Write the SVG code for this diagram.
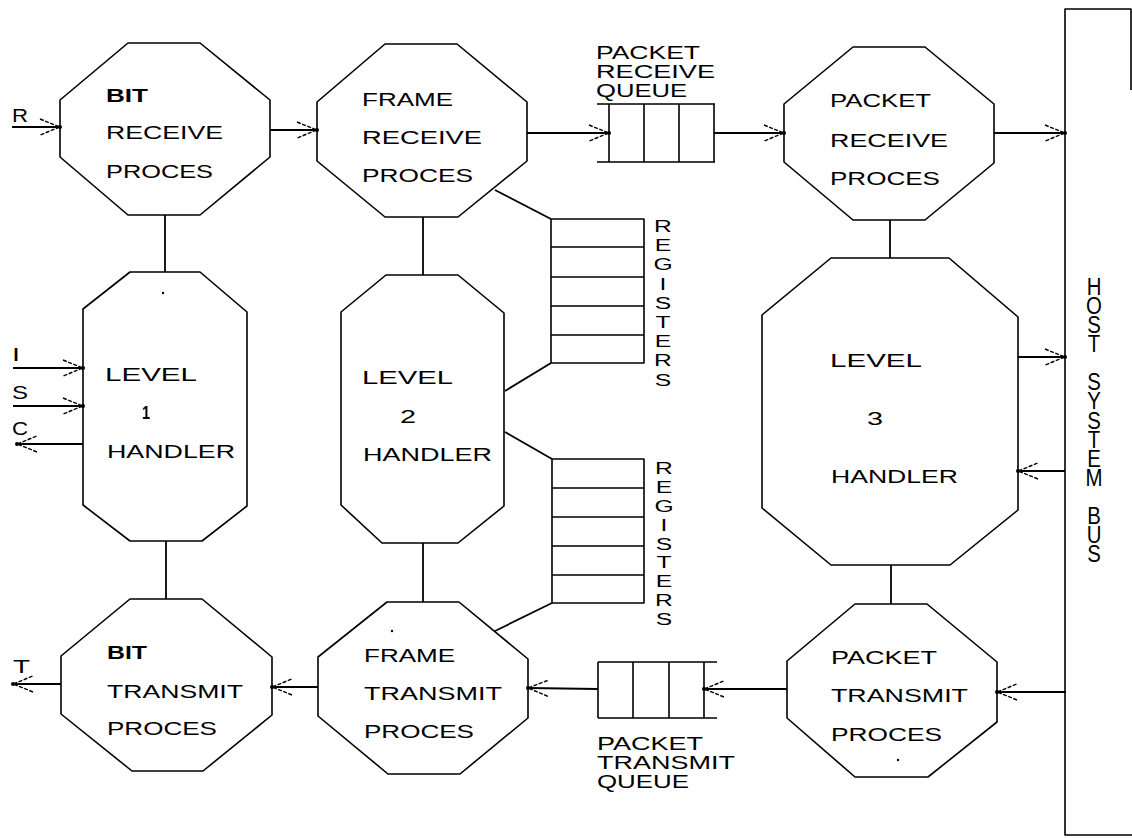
<svg xmlns="http://www.w3.org/2000/svg" width="1132" height="838" viewBox="0 0 1132 838">
<style>
.shape{fill:none;stroke:#000;stroke-width:1.6;stroke-linejoin:round}
.line{fill:none;stroke:#000;stroke-width:1.8}
.t{font-family:"Liberation Sans",Arial,sans-serif;font-size:18px;fill:#000}
.vt{font-family:"Liberation Sans",Arial,sans-serif;font-size:17px;fill:#000;text-anchor:middle}
.bt{font-family:"Liberation Sans",Arial,sans-serif;font-size:24px;fill:#000;writing-mode:vertical-rl;text-orientation:upright;letter-spacing:-7.8px}
.speck{fill:#000}
</style>
<defs>
<marker id="arr" markerUnits="userSpaceOnUse" markerWidth="30" markerHeight="24" viewBox="-24 -12 30 24" refX="0" refY="0" orient="auto">
<path d="M-20,-8 L0,0 L-20,8" fill="none" stroke="#000" stroke-width="1.4" stroke-dasharray="4 1.5"/>
<circle cx="0" cy="0" r="2" fill="#000"/>
</marker>
</defs>
<rect width="1132" height="838" fill="#fff"/>

<g id="connectors">
<line class="line" x1="12" y1="127" x2="60" y2="127" marker-end="url(#arr)"/>
<line class="line" x1="270" y1="130" x2="317" y2="130" marker-end="url(#arr)"/>
<line class="line" x1="527" y1="133" x2="609" y2="133" marker-end="url(#arr)"/>
<line class="line" x1="714" y1="133" x2="784" y2="133" marker-end="url(#arr)"/>
<line class="line" x1="994" y1="133" x2="1065" y2="133" marker-end="url(#arr)"/>
<line class="line" x1="165" y1="215" x2="165" y2="272"/>
<line class="line" x1="166" y1="541" x2="166" y2="599"/>
<line class="line" x1="423" y1="217" x2="423" y2="275"/>
<line class="line" x1="423" y1="543" x2="423" y2="602"/>
<line class="line" x1="890" y1="220" x2="890" y2="258"/>
<line class="line" x1="891" y1="565" x2="891" y2="604"/>
<line class="line" x1="495" y1="190" x2="551" y2="219"/>
<line class="line" x1="551" y1="363" x2="505" y2="391"/>
<line class="line" x1="505" y1="432" x2="552" y2="459"/>
<line class="line" x1="552" y1="603" x2="495" y2="631"/>
<line class="line" x1="13" y1="368" x2="83" y2="368" marker-end="url(#arr)"/>
<line class="line" x1="13" y1="406" x2="83" y2="406" marker-end="url(#arr)"/>
<line class="line" x1="83" y1="444" x2="17" y2="444" marker-end="url(#arr)"/>
<line class="line" x1="1018" y1="357" x2="1065" y2="357" marker-end="url(#arr)"/>
<line class="line" x1="1065" y1="471" x2="1018" y2="471" marker-end="url(#arr)"/>
<line class="line" x1="1066" y1="692" x2="997" y2="692" marker-end="url(#arr)"/>
<line class="line" x1="787" y1="689" x2="704" y2="689" marker-end="url(#arr)"/>
<line class="line" x1="598" y1="689" x2="528" y2="688" marker-end="url(#arr)"/>
<line class="line" x1="318" y1="687" x2="272" y2="687" marker-end="url(#arr)"/>
<line class="line" x1="61" y1="684" x2="13" y2="684" marker-end="url(#arr)"/>
</g>

<g id="signal-labels">
<text class="t" x="12" y="122" textLength="16" lengthAdjust="spacingAndGlyphs">R</text>
<text class="t" x="12" y="361" textLength="8" lengthAdjust="spacingAndGlyphs">I</text>
<text class="t" x="12" y="399" textLength="16" lengthAdjust="spacingAndGlyphs">S</text>
<text class="t" x="12" y="435" textLength="16" lengthAdjust="spacingAndGlyphs">C</text>
<text class="t" x="13" y="673" textLength="17" lengthAdjust="spacingAndGlyphs">T</text>
</g>

<g id="bit-receive">
<polygon class="shape" points="128,43 200,43 270,100 270,157 200,215 128,215 60,157 60,100"/>
<text class="t" x="106" y="102" textLength="42" lengthAdjust="spacingAndGlyphs" font-weight="bold">BIT</text>
<text class="t" x="106" y="139" textLength="117" lengthAdjust="spacingAndGlyphs">RECEIVE</text>
<text class="t" x="106" y="178" textLength="107" lengthAdjust="spacingAndGlyphs">PROCES</text>
</g>

<g id="frame-receive">
<polygon class="shape" points="385,44 457,44 527,102 527,161 458,217 385,217 317,161 317,102"/>
<text class="t" x="362" y="106" textLength="91" lengthAdjust="spacingAndGlyphs">FRAME</text>
<text class="t" x="362" y="144" textLength="120" lengthAdjust="spacingAndGlyphs">RECEIVE</text>
<text class="t" x="362" y="182" textLength="111" lengthAdjust="spacingAndGlyphs">PROCES</text>
</g>

<g id="packet-receive-queue">
<path class="shape" d="M597,104 H715 M597,162 H715 M609,104 V162 M644,104 V162 M679,104 V162 M714,104 V162"/>
<text class="t" x="596" y="59" textLength="104" lengthAdjust="spacingAndGlyphs">PACKET</text>
<text class="t" x="596" y="78" textLength="119" lengthAdjust="spacingAndGlyphs">RECEIVE</text>
<text class="t" x="596" y="97" textLength="91" lengthAdjust="spacingAndGlyphs">QUEUE</text>
</g>

<g id="packet-receive">
<polygon class="shape" points="853,47 925,47 994,104 994,163 925,220 853,220 784,162 784,104"/>
<text class="t" x="830" y="107" textLength="101" lengthAdjust="spacingAndGlyphs">PACKET</text>
<text class="t" x="830" y="147" textLength="118" lengthAdjust="spacingAndGlyphs">RECEIVE</text>
<text class="t" x="830" y="185" textLength="110" lengthAdjust="spacingAndGlyphs">PROCES</text>
</g>

<g id="level1-handler">
<polygon class="shape" points="130,272 200,272 247,312 247,506 202,541 130,541 83,505 83,309"/>
<text class="t" x="105" y="381" textLength="92" lengthAdjust="spacingAndGlyphs">LEVEL</text>
<text class="t" x="142" y="419" textLength="8" lengthAdjust="spacingAndGlyphs" font-weight="bold">1</text>
<text class="t" x="107" y="458" textLength="128" lengthAdjust="spacingAndGlyphs">HANDLER</text>
<circle class="speck" cx="163" cy="293" r="1.2"/>
</g>

<g id="level2-handler">
<polygon class="shape" points="386,275 458,275 504,313 504,506 458,543 382,543 341,505 341,312"/>
<text class="t" x="362" y="384" textLength="91" lengthAdjust="spacingAndGlyphs">LEVEL</text>
<text class="t" x="400" y="423" textLength="16" lengthAdjust="spacingAndGlyphs">2</text>
<text class="t" x="363" y="461" textLength="129" lengthAdjust="spacingAndGlyphs">HANDLER</text>
</g>

<g id="registers-top">
<path class="shape" d="M551,219 H644 V363 H551 Z M551,247 H644 M551,277 H644 M551,306 H644 M551,335 H644"/>
<g transform="translate(663,0) scale(1.45,1)">
<text class="vt" x="0" y="232">R</text>
<text class="vt" x="0" y="251.2">E</text>
<text class="vt" x="0" y="270.4">G</text>
<text class="vt" x="0" y="289.6">I</text>
<text class="vt" x="0" y="308.8">S</text>
<text class="vt" x="0" y="328">T</text>
<text class="vt" x="0" y="347.2">E</text>
<text class="vt" x="0" y="366.4">R</text>
<text class="vt" x="0" y="385.6">S</text>
</g>
</g>

<g id="registers-bottom">
<path class="shape" d="M552,459 H644 V603 H552 Z M552,488 H644 M552,517 H644 M552,546 H644 M552,575 H644"/>
<g transform="translate(664,0) scale(1.45,1)">
<text class="vt" x="0" y="474">R</text>
<text class="vt" x="0" y="492.9">E</text>
<text class="vt" x="0" y="511.8">G</text>
<text class="vt" x="0" y="530.7">I</text>
<text class="vt" x="0" y="549.6">S</text>
<text class="vt" x="0" y="568.5">T</text>
<text class="vt" x="0" y="587.4">E</text>
<text class="vt" x="0" y="606.3">R</text>
<text class="vt" x="0" y="625.2">S</text>
</g>
</g>

<g id="level3-handler">
<polygon class="shape" points="831,258 949,258 1018,317 1018,510 950,565 831,565 762,508 762,315"/>
<text class="t" x="830" y="367" textLength="92" lengthAdjust="spacingAndGlyphs">LEVEL</text>
<text class="t" x="867" y="425" textLength="16" lengthAdjust="spacingAndGlyphs">3</text>
<text class="t" x="831" y="483" textLength="127" lengthAdjust="spacingAndGlyphs">HANDLER</text>
</g>

<g id="host-system-bus">
<path class="shape" d="M1131,90 V9 H1065 V835 H1132"/>
<g transform="translate(1094,0) scale(0.85,1)">
<text class="bt" x="0" y="273">HOST SYSTEM BUS</text>
</g>
</g>

<g id="bit-transmit">
<polygon class="shape" points="130,599 202,599 272,657 272,715 203,771 132,771 61,714 61,656"/>
<text class="t" x="107" y="659" textLength="40" lengthAdjust="spacingAndGlyphs" font-weight="bold">BIT</text>
<text class="t" x="107" y="698" textLength="136" lengthAdjust="spacingAndGlyphs">TRANSMIT</text>
<text class="t" x="107" y="735" textLength="110" lengthAdjust="spacingAndGlyphs">PROCES</text>
</g>

<g id="frame-transmit">
<polygon class="shape" points="387,602 459,602 528,659 528,718 460,774 388,774 318,716 318,657"/>
<text class="t" x="364" y="662" textLength="91" lengthAdjust="spacingAndGlyphs">FRAME</text>
<text class="t" x="364" y="700" textLength="138" lengthAdjust="spacingAndGlyphs">TRANSMIT</text>
<text class="t" x="364" y="738" textLength="110" lengthAdjust="spacingAndGlyphs">PROCES</text>
<circle class="speck" cx="392" cy="631" r="1.2"/>
</g>

<g id="packet-transmit-queue">
<path class="shape" d="M598,662 H717 M598,718 H717 M598,662 V718 M633,662 V718 M669,662 V718 M704,662 V718"/>
<text class="t" x="597" y="750" textLength="106" lengthAdjust="spacingAndGlyphs">PACKET</text>
<text class="t" x="597" y="769" textLength="138" lengthAdjust="spacingAndGlyphs">TRANSMIT</text>
<text class="t" x="597" y="788" textLength="92" lengthAdjust="spacingAndGlyphs">QUEUE</text>
</g>

<g id="packet-transmit">
<polygon class="shape" points="855,604 927,604 997,662 997,722 928,777 855,777 787,718 787,661"/>
<text class="t" x="831" y="664" textLength="106" lengthAdjust="spacingAndGlyphs">PACKET</text>
<text class="t" x="831" y="702" textLength="137" lengthAdjust="spacingAndGlyphs">TRANSMIT</text>
<text class="t" x="831" y="741" textLength="111" lengthAdjust="spacingAndGlyphs">PROCES</text>
<circle class="speck" cx="898" cy="760" r="1.2"/>
</g>
</svg>
